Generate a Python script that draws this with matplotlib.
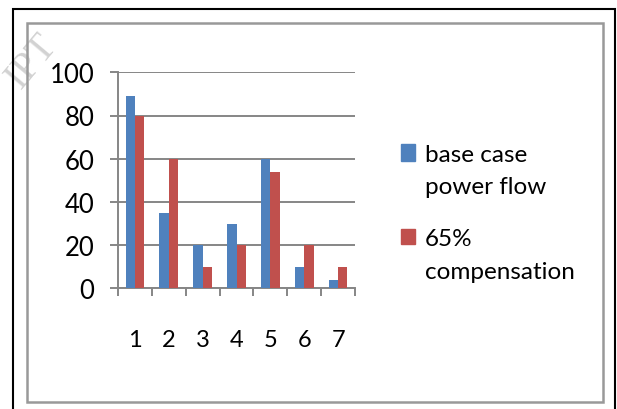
import matplotlib
matplotlib.use("Agg")
import matplotlib.pyplot as plt
from matplotlib.patches import Rectangle
import numpy as np

categories = ["1", "2", "3", "4", "5", "6", "7"]
base_case = [89, 35, 20, 30, 60, 10, 4]
compensation = [80, 60, 10, 20, 54, 20, 10]
series_labels = ["base case\npower flow", "65%\ncompensation"]
colors = ["#4F81BD", "#C0504D"]

W, H = 617, 410
plt.rcParams['font.family'] = ['Lato', 'DejaVu Sans']

fig = plt.figure(figsize=(W / 100, H / 100), dpi=100)


def fx(px):
    return px / W


def fy(py):
    return 1 - py / H


# faint watermark in the corner
fig.text(fx(28), fy(96), "IPT", family="Liberation Serif",
         fontsize=28, color="#d2d2d2", rotation=50, rotation_mode="anchor",
         ha="left", va="bottom", zorder=0)

# outer and inner frames
fig.add_artist(Rectangle((fx(13), fy(430)), fx(615) - fx(13), fy(10) - fy(430),
                         transform=fig.transFigure, fill=False, ec="black", lw=1.5))
fig.add_artist(Rectangle((fx(26.5), fy(403)), fx(603) - fx(26.5), fy(24) - fy(403),
                         transform=fig.transFigure, fill=False, ec="#999999", lw=1.8))

ax = fig.add_axes([fx(118), fy(289.3), fx(355) - fx(118), fy(73.3) - fy(289.3)])
x = np.arange(1, len(categories) + 1)
w = 0.275
ax.bar(x - w / 2, base_case, w, color=colors[0], zorder=3)
ax.bar(x + w / 2, compensation, w, color=colors[1], zorder=3)

ax.set_xlim(0.5, len(categories) + 0.5)
ax.set_ylim(0, 100)
ax.set_yticks(np.arange(0, 101, 20))
ax.yaxis.grid(True, color="#868686", lw=1.4, zorder=0)
ax.set_xticks(x)
ax.set_xticklabels(categories)
ax.set_xticks(np.arange(0.5, len(categories) + 1, 1), minor=True)

for s in ["top", "right"]:
    ax.spines[s].set_visible(False)
for s in ["left", "bottom"]:
    ax.spines[s].set_color("#868686")
    ax.spines[s].set_linewidth(1.4)

ax.tick_params(axis="y", length=6, width=1.4, color="#868686", pad=11, labelsize=18.5)
ax.tick_params(axis="x", which="major", length=0, pad=29, labelsize=17)
ax.tick_params(axis="x", which="minor", length=6, width=1.4, color="#868686")

# legend
legend_boxes = [(145, 162), (230, 245)]
legend_text_y = [171.5, 256]
for i in range(2):
    top, bot = legend_boxes[i]
    fig.add_artist(Rectangle((fx(401), fy(bot)), fx(415) - fx(401), fy(top) - fy(bot),
                             transform=fig.transFigure, color=colors[i]))
    fig.text(fx(425), fy(legend_text_y[i]), series_labels[i], fontsize=17.5,
             va="center", ha="left", linespacing=1.65)

fig.savefig("out.png", dpi=100)
